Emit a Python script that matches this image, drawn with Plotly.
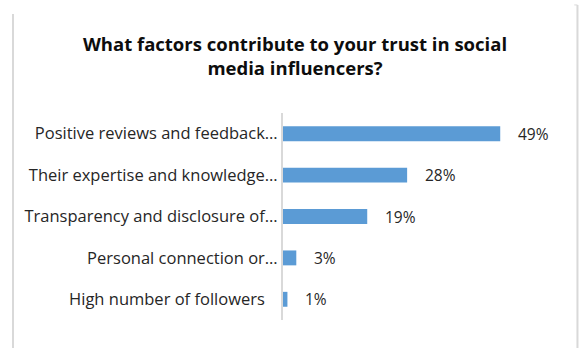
import plotly.graph_objects as go

# Survey answers, top to bottom as shown
categories = [
    "Positive reviews and feedback…",
    "Their expertise and knowledge…",
    "Transparency and disclosure of…",
    "Personal connection or…",
    "High number of followers\u00a0\u00a0\u00a0",
]
shares = [0.49, 0.28, 0.19, 0.03, 0.01]
value_labels = ["49%", "28%", "19%", "3%", "1%"]

FONT = "Open Sans, Carlito, Calibri, sans-serif"
GRID = "#d9d9d9"
BAR = "#5b9bd5"

fig = go.Figure(
    go.Bar(
        x=shares,
        y=categories,
        orientation="h",
        marker=dict(color=BAR, line=dict(width=0)),
        width=0.36,
        hoverinfo="skip",
    )
)

for cat, val, lab in zip(categories, shares, value_labels):
    fig.add_annotation(
        x=val, y=cat, text=lab, showarrow=False,
        xanchor="left", yanchor="middle", xshift=16,
        font=dict(family=FONT, size=15.5, color="#262626"),
    )

# light frame lines on the left and right of the chart area
fig.add_shape(type="line", xref="paper", yref="paper",
              x0=-1.015, x1=-1.015, y0=1.478, y1=-0.2,
              line=dict(color=GRID, width=2))
fig.add_shape(type="line", xref="paper", yref="paper",
              x0=1.107, x1=1.107, y0=1.522, y1=-0.2,
              line=dict(color=GRID, width=2))
fig.add_shape(type="line", xref="paper", yref="paper",
              x0=1.095, x1=1.107, y0=1.522, y1=1.522,
              line=dict(color=GRID, width=1))

fig.update_layout(
    width=579, height=348,
    margin=dict(l=283, r=30, t=113, b=28),
    paper_bgcolor="white", plot_bgcolor="white",
    showlegend=False,
    title=dict(
        text="What factors contribute to your trust in social<br>media influencers?",
        x=0.5095, xanchor="center", y=0.853, yanchor="middle",
        font=dict(family=FONT, size=18.5, color="#0d0d0d", weight="bold"),
    ),
    xaxis=dict(range=[0, 0.6], visible=False, fixedrange=True),
    yaxis=dict(
        autorange="reversed",
        showline=True, linecolor=GRID, linewidth=2,
        showgrid=False, ticks="", ticklabelstandoff=0,
        tickfont=dict(family=FONT, size=16.5, color="#262626"),
        fixedrange=True,
    ),
)

fig.write_html("out.html", config=dict(displayModeBar=False))
